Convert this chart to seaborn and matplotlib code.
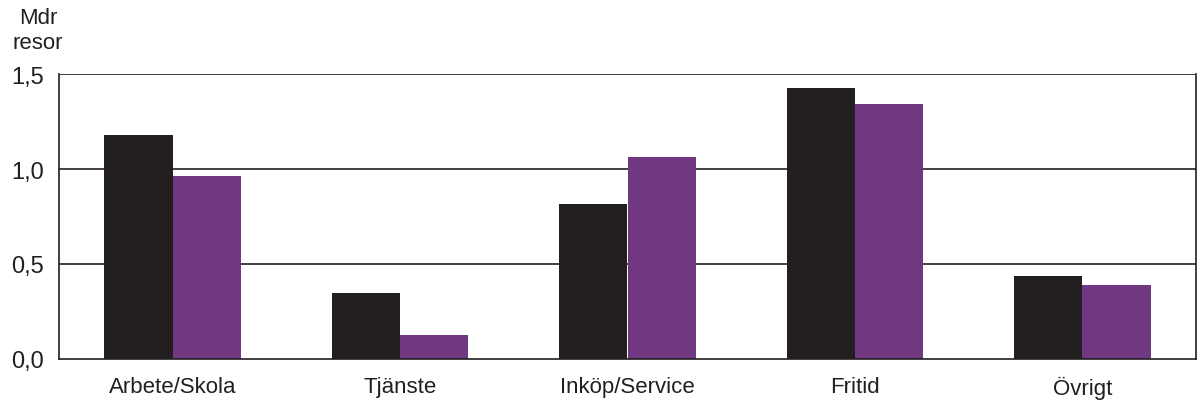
import matplotlib
matplotlib.use("Agg")
import matplotlib.pyplot as plt
import seaborn as sns
import pandas as pd
import numpy as np
from matplotlib.ticker import FixedLocator

categories = ["Arbete/Skola", "Tjänste", "Inköp/Service", "Fritid", "Övrigt"]
series_names = ["Serie 1", "Serie 2"]
serie1 = [1.18, 0.345, 0.815, 1.425, 0.435]
serie2 = [0.965, 0.128, 1.063, 1.342, 0.392]
yticks = [0.0, 0.5, 1.0, 1.5]
ytick_labels = ["0,0", "0,5", "1,0", "1,5"]
colors = ["#231f20", "#6f3880"]

df = pd.DataFrame({
    "kategori": categories * 2,
    "serie": [series_names[0]] * len(categories) + [series_names[1]] * len(categories),
    "varde": serie1 + serie2,
})

sns.set_style("white")
plt.rcParams["font.family"] = ["Liberation Sans", "DejaVu Sans"]

fig = plt.figure(figsize=(12, 4.02), dpi=100)
ax = fig.add_axes([59/1200, 1 - 360/402, (1196-59)/1200, (360-75)/402])

sns.barplot(data=df, x="kategori", y="varde", hue="serie", order=categories,
            hue_order=series_names, palette=colors, width=0.6, saturation=1,
            legend=False, ax=ax, linewidth=0)

ax.set_ylim(0, 1.5)
ax.set_xlim(-0.5, len(categories) - 0.5)
ax.set_yticks(yticks)
ax.set_yticklabels(ytick_labels, fontsize=17)
ax.set_xlabel("")
ax.set_ylabel("")
ax.tick_params(axis="x", which="major", length=0, labelsize=16, pad=12, colors="#231f20")
ax.tick_params(axis="y", which="major", length=6, width=1, direction="out", pad=5, colors="#231f20")
ax.xaxis.set_minor_locator(FixedLocator(np.arange(-0.5, len(categories), 1.0)))
ax.tick_params(axis="x", which="minor", length=8, width=1, direction="out", color="#231f20")
for t in ax.get_xticklabels() + ax.get_yticklabels():
    t.set_color("#231f20")

for y in yticks[1:]:
    ax.axhline(y, color="#231f20", lw=1.2, zorder=0.5)

for s in ["left", "right", "bottom"]:
    ax.spines[s].set_visible(True)
    ax.spines[s].set_color("#231f20")
    ax.spines[s].set_linewidth(1.2)
ax.spines["top"].set_visible(False)

fig.text(38/1200, 1 - 31/402, "Mdr\nresor", ha="center", va="center", fontsize=16,
         color="#231f20", linespacing=1.2)

fig.savefig("out.png", dpi=100, facecolor="white")
